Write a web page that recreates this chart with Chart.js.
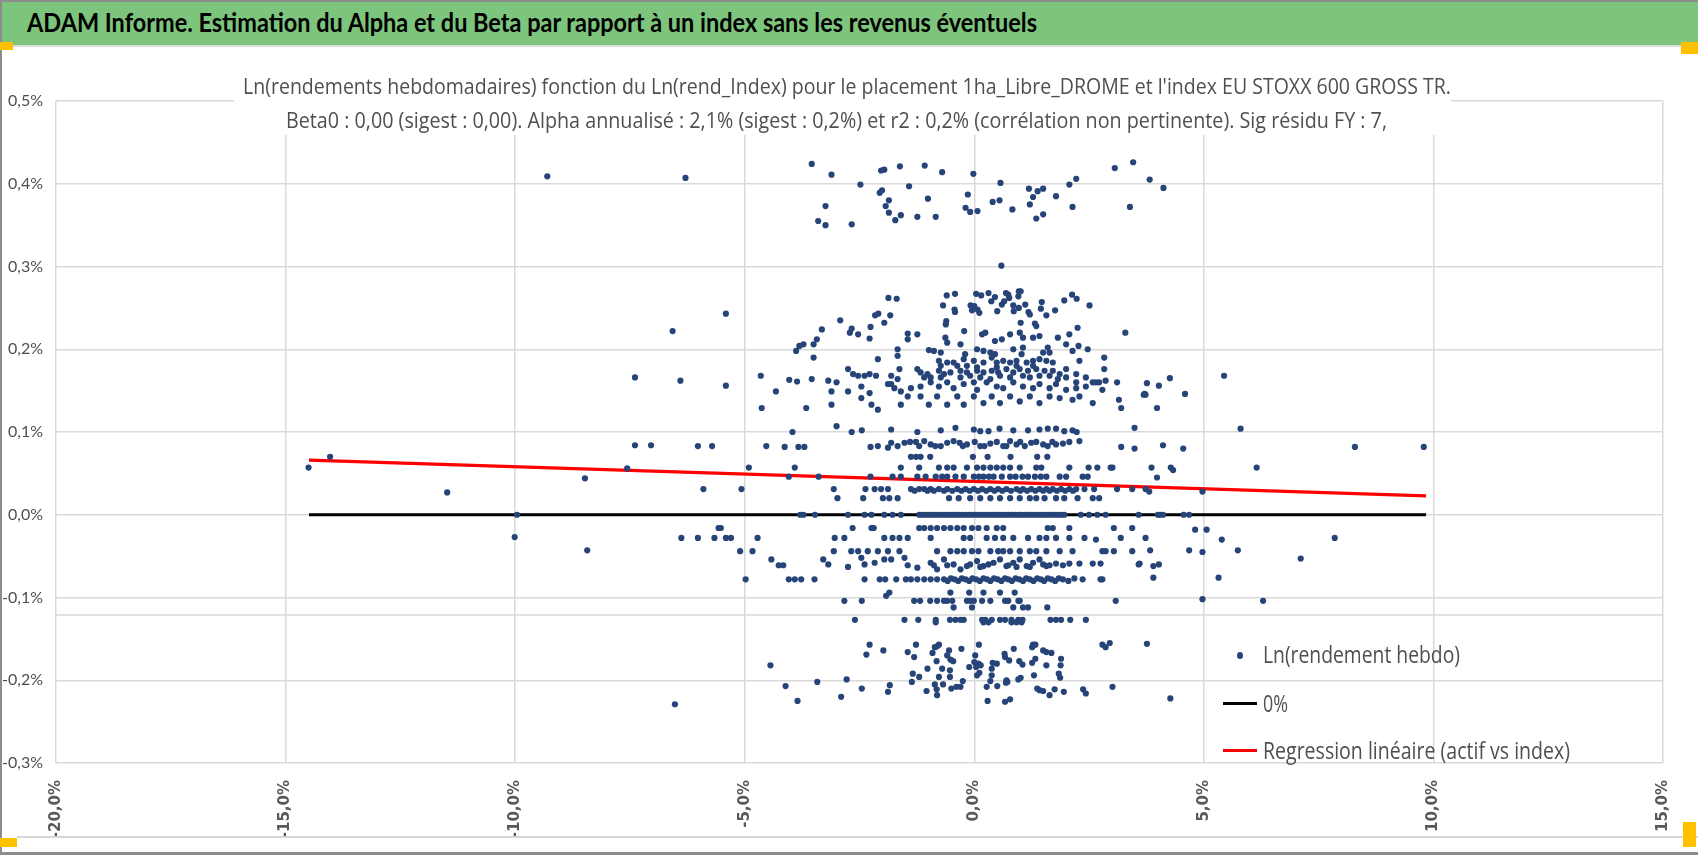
<!DOCTYPE html>
<html>
<head>
<meta charset="utf-8">
<script src="https://cdn.jsdelivr.net/npm/chart.js@4.4.1/dist/chart.umd.min.js"></script>
<style>
html,body{margin:0;padding:0;background:#fff;}
#wrap{position:relative;width:1698px;height:855px;overflow:hidden;background:#fff;}
#c{position:absolute;left:0;top:0;}
.box{position:absolute;}
.fit{position:absolute;white-space:nowrap;transform-origin:0 50%;line-height:1.2;transform:translateY(-50%);}
.gray{color:#4f4f4f;font-family:"Open Sans",Lato,"Noto Sans",sans-serif;}
</style>
</head>
<body>
<div id="wrap">
  <canvas id="c" width="1698" height="855"></canvas>
  <!-- frame -->
  <div class="box" style="left:0;top:0;width:1698px;height:45px;background:#7dc57c;border-top:2px solid #8c8c8c;box-sizing:border-box;"></div>
  <div class="box" style="left:0;top:45px;width:1698px;height:2px;background:#dcdcdc;"></div>
  <div class="box" style="left:0;top:0;width:2px;height:855px;background:#8c8c8c;"></div>
  <div class="box" style="left:17px;top:836px;width:1681px;height:2px;background:#d6d6d6;"></div>
  <div class="box" style="left:0;top:852px;width:1698px;height:3px;background:#8c8c8c;"></div>
  <div class="box" style="left:0;top:42px;width:13px;height:8px;background:#ffc000;"></div>
  <div class="box" style="left:1681px;top:42px;width:17px;height:12px;background:#ffc000;"></div>
  <div class="box" style="left:0;top:838px;width:17px;height:9px;background:#ffc000;"></div>
  <div class="box" style="left:1683px;top:822px;width:13px;height:25px;background:#ffc000;"></div>
  <!-- header -->
  <div class="fit" id="hdr" data-w="1010" style="left:27px;top:23px;font-family:Lato,'Open Sans',sans-serif;font-weight:bold;font-size:26px;color:#000;"></div>
  <!-- chart title box -->
  <div class="box" style="left:234px;top:58px;width:1217px;height:77px;background:#fff;"></div>
  <div class="fit gray" id="t1" data-w="1208" style="left:243px;top:85px;font-size:22px;"></div>
  <div class="fit gray" id="t2" data-w="1101" style="left:286px;top:119px;font-size:22px;"></div>
  <!-- legend -->
  <div class="box" style="left:1237px;top:652px;width:6px;height:7px;border-radius:50%;background:#264478;"></div>
  <div class="box" style="left:1223px;top:702px;width:34px;height:3px;background:#000;"></div>
  <div class="box" style="left:1223px;top:749px;width:34px;height:3px;background:#ff0000;"></div>
  <div class="fit gray" id="l1" data-w="197" style="left:1263px;top:655px;font-size:23px;"></div>
  <div class="fit gray" id="l2" data-w="25" style="left:1263px;top:704px;font-size:23px;"></div>
  <div class="fit gray" id="l3" data-w="307" style="left:1263px;top:751px;font-size:23px;"></div>
</div>
<script>
// ---------- texts ----------
const headerText = "ADAM Informe. Estimation du Alpha et du Beta par rapport à un index sans les revenus éventuels";
const titleLines = [
  "Ln(rendements hebdomadaires) fonction du Ln(rend_Index) pour le placement 1ha_Libre_DROME et l'index EU STOXX 600 GROSS TR.",
  "Beta0 : 0,00 (sigest : 0,00). Alpha annualisé : 2,1% (sigest : 0,2%) et r2 : 0,2% (corrélation non pertinente). Sig résidu FY : 7,"
];
const seriesNames = ["Ln(rendement hebdo)", "0%", "Regression linéaire (actif vs index)"];

// ---------- axes ----------
const xTickValues = [-20, -15, -10, -5, 0, 5, 10, 15];
const yTickValues = [-0.3, -0.2, -0.1, 0.0, 0.1, 0.2, 0.3, 0.4, 0.5];
const extraRuleY = [-0.121];

// ---------- lines ----------
const zeroLineX = [-14.49, 9.84];
const zeroLineY = [0, 0];
const regressionX = [-14.49, 9.84];
const regressionY = [0.066, 0.0227];

// ---------- weekly points [index return %, asset return %] ----------
const weeklyPoints = [
// top cluster
[-9.30,0.409],[-6.29,0.407],[-3.54,0.424],[-3.11,0.411],[-3.24,0.373],[-3.40,0.355],[-3.24,0.350],[-2.67,0.351],[-2.48,0.399],[-2.03,0.416],[-1.96,0.417],[-1.62,0.421],[-1.08,0.422],[-0.70,0.414],[-0.02,0.412],[-1.42,0.397],[-2.06,0.389],[-2.01,0.392],[-1.86,0.380],[-1.93,0.373],[-1.86,0.365],[-1.72,0.356],[-1.60,0.362],[-1.24,0.360],[-1.01,0.382],[-0.84,0.360],[-0.14,0.387],[-0.19,0.371],[-0.09,0.366],[0.07,0.367],[0.40,0.378],[0.55,0.380],[0.57,0.401],[0.83,0.369],[1.19,0.394],[1.28,0.384],[1.38,0.391],[1.50,0.394],[1.21,0.375],[1.35,0.358],[1.50,0.363],[1.78,0.385],[2.07,0.399],[2.22,0.406],[2.14,0.372],[3.06,0.419],[3.46,0.426],[3.39,0.372],[3.82,0.405],[4.12,0.395],[0.59,0.301],
// 0.225 - 0.27
[-5.41,0.243],[-6.57,0.222],[-1.87,0.262],[-1.69,0.261],[-0.60,0.265],[-0.42,0.267],[0.04,0.267],[0.15,0.265],[0.31,0.268],[0.37,0.258],[0.45,0.263],[0.69,0.268],[0.74,0.266],[0.76,0.262],[0.97,0.270],[1.01,0.270],[0.96,0.264],[1.11,0.254],[1.47,0.257],[1.96,0.259],[2.13,0.266],[2.23,0.261],[2.51,0.253],
[-0.68,0.253],[-0.43,0.248],[-0.42,0.245],[-0.08,0.253],[-0.05,0.247],[0.00,0.252],[0.07,0.248],[0.11,0.244],[0.50,0.246],[0.60,0.254],[0.65,0.258],[0.85,0.253],[0.86,0.246],[0.97,0.250],[1.18,0.245],[1.21,0.242],[1.45,0.249],[1.57,0.241],[1.76,0.247],[1.32,0.231],[1.35,0.228],[1.01,0.232],[2.25,0.226],
[-0.61,0.234],[-0.62,0.230],[-2.16,0.241],[-2.09,0.243],[-1.83,0.241],[-1.96,0.232],[-2.26,0.227],[-2.67,0.225],[-2.92,0.235],
[-3.81,0.204],[-3.72,0.206],[-3.88,0.198],
// 0.127 - 0.224 dense cloud
[-3.32,0.224],[-2.71,0.220],[-2.53,0.218],[-2.28,0.213],[-1.45,0.219],[-1.45,0.212],[-1.24,0.218],[-0.63,0.214],[-0.59,0.208],[-0.22,0.222],[0.17,0.218],[0.24,0.220],[0.45,0.210],[0.60,0.212],[0.78,0.218],[0.99,0.220],[1.06,0.214],[1.28,0.214],[1.42,0.216],[1.82,0.214],[2.07,0.218],[3.29,0.220],[-3.43,0.212],[-3.50,0.206],
[-1.67,0.200],[-1.67,0.192],[-0.99,0.199],[-0.88,0.198],[-0.73,0.196],[-0.30,0.206],[-0.20,0.194],[0.06,0.200],[0.20,0.198],[0.35,0.196],[0.45,0.194],[0.85,0.200],[1.03,0.194],[1.06,0.202],[1.50,0.196],[1.60,0.202],[1.64,0.196],[2.00,0.206],[2.14,0.198],[2.27,0.204],[2.47,0.200],[2.83,0.190],[-3.50,0.190],[-2.10,0.188],
[-0.77,0.186],[-0.59,0.184],[-0.45,0.184],[-0.23,0.188],[-0.01,0.186],[0.20,0.184],[0.38,0.190],[0.49,0.184],[0.63,0.186],[0.78,0.184],[0.92,0.186],[1.14,0.184],[1.28,0.186],[1.42,0.188],[1.57,0.186],[1.71,0.184],[2.29,0.186],[-0.73,0.180],[-0.37,0.180],[-0.16,0.180],[0.06,0.178],[0.49,0.178],[0.92,0.180],[1.28,0.180],
[-2.75,0.176],[-2.64,0.170],[-2.53,0.168],[-2.39,0.168],[-2.28,0.170],[-2.14,0.168],[-1.81,0.168],[-1.63,0.176],[-1.24,0.176],[-1.17,0.172],[-1.02,0.170],[-0.77,0.174],[-0.66,0.170],[-0.52,0.172],[-0.30,0.174],[-0.16,0.172],[0.06,0.174],[0.20,0.172],[0.38,0.174],[0.52,0.172],[0.70,0.176],[0.85,0.172],[0.99,0.176],[1.17,0.174],[1.35,0.176],[1.53,0.174],[1.71,0.174],[1.86,0.170],[2.00,0.176],[2.22,0.170],[2.83,0.176],
[-1.81,0.158],[-1.67,0.164],[-1.09,0.166],[-0.95,0.166],[-0.73,0.166],[-0.30,0.166],[-0.09,0.168],[0.13,0.166],[0.35,0.164],[0.56,0.168],[0.78,0.166],[1.06,0.168],[1.21,0.166],[1.42,0.168],[1.64,0.168],[1.82,0.164],[2.00,0.166],[2.22,0.160],[2.43,0.166],[2.58,0.160],[2.65,0.160],[2.86,0.162],
[-3.18,0.162],[-3.00,0.160],[-3.11,0.149],[-2.75,0.149],[-2.46,0.155],[-2.28,0.147],[-1.88,0.158],[-1.74,0.153],[-1.60,0.149],[-1.38,0.153],[-1.17,0.155],[-0.95,0.160],[-0.77,0.155],[-0.59,0.160],[-0.45,0.153],[-0.23,0.158],[-0.01,0.160],[0.06,0.151],[0.27,0.160],[0.49,0.155],[0.63,0.153],[0.85,0.160],[1.06,0.155],[1.28,0.153],[1.42,0.158],[1.64,0.153],[1.78,0.158],[2.00,0.151],[2.22,0.153],[2.43,0.155],[2.72,0.160],[3.11,0.160],[-3.54,0.164],[2.79,0.151],
[-3.11,0.133],[-2.46,0.141],[-2.24,0.133],[-2.10,0.127],[-1.60,0.133],[-1.45,0.143],[-1.17,0.143],[-0.99,0.133],[-0.81,0.143],[-0.59,0.133],[-0.37,0.143],[-0.23,0.133],[-0.01,0.143],[0.20,0.135],[0.38,0.143],[0.56,0.135],[0.78,0.143],[0.99,0.137],[1.21,0.143],[1.42,0.135],[1.64,0.143],[1.86,0.141],[2.14,0.139],[2.29,0.143],[2.58,0.135],[3.15,0.139],[3.20,0.129],
// 0.12 - 0.17 outside the dense cloud
[-4.65,0.168],[-5.41,0.156],[-6.40,0.162],[-7.39,0.166],[-4.03,0.163],[-3.86,0.161],[-4.32,0.149],[-4.63,0.129],[-3.66,0.129],
[3.76,0.159],[3.71,0.146],[4.02,0.156],[4.26,0.165],[4.59,0.146],[3.98,0.129],[5.44,0.168],[3.73,0.145],[3.69,0.145],
// ~0.10
[-3.96,0.100],[-3.00,0.107],[-2.67,0.100],[-2.45,0.102],[-1.81,0.103],[-1.24,0.100],[-0.73,0.102],[-0.41,0.105],[-0.01,0.103],[0.13,0.101],[0.31,0.101],[0.55,0.104],[0.85,0.102],[1.17,0.102],[1.42,0.103],[1.60,0.104],[1.78,0.104],[1.96,0.101],[2.14,0.102],[2.23,0.100],[3.49,0.105],[5.80,0.104],
// ~0.08
[-6.02,0.083],[-5.71,0.083],[-4.53,0.083],[-4.13,0.082],[-3.83,0.082],[-3.70,0.082],[-2.26,0.082],[-2.10,0.083],[-1.88,0.081],[-1.81,0.087],[-1.67,0.083],[-1.52,0.087],[-1.40,0.088],[-1.27,0.088],[-1.20,0.083],[-1.09,0.089],[-0.95,0.085],[-0.73,0.083],[-0.59,0.087],[-0.45,0.089],[-0.32,0.087],[-0.16,0.085],[0.01,0.088],[0.13,0.083],[0.35,0.086],[0.49,0.088],[0.63,0.083],[0.78,0.089],[0.92,0.085],[1.10,0.083],[1.24,0.087],[1.35,0.088],[1.50,0.085],[1.60,0.083],[1.78,0.085],[1.93,0.086],[2.07,0.088],[2.29,0.089],[3.20,0.082],[3.49,0.080],[4.11,0.084],[4.55,0.080],[8.29,0.082],[9.79,0.082],[-7.39,0.084],[-7.04,0.084],
[-0.85,0.083],[-0.25,0.083],[0.22,0.083],[0.70,0.083],[1.00,0.088],[1.70,0.088],
// ~0.07
[-1.38,0.070],[-1.27,0.070],[-1.17,0.070],[-0.96,0.070],[-0.03,0.070],[0.29,0.070],[0.79,0.070],[1.37,0.070],[1.59,0.070],[-14.03,0.070],
// ~0.057
[-4.91,0.057],[-3.91,0.057],[-1.60,0.057],[-1.20,0.057],[-0.77,0.057],[-0.59,0.057],[-0.45,0.057],[-0.16,0.057],[0.06,0.057],[0.20,0.057],[0.35,0.057],[0.49,0.057],[0.63,0.057],[0.78,0.057],[0.99,0.057],[1.35,0.057],[1.46,0.057],[2.07,0.057],[2.49,0.057],[2.68,0.057],[2.97,0.057],[3.01,0.057],[3.86,0.057],[4.28,0.057],[4.33,0.054],[6.15,0.057],[-7.56,0.056],[-14.50,0.057],
// ~0.046
[-4.04,0.046],[-3.39,0.046],[-2.26,0.046],[-1.78,0.046],[-1.60,0.046],[-1.24,0.046],[-1.06,0.046],[-0.84,0.046],[-0.59,0.046],[-0.41,0.046],[-0.23,0.046],[-0.01,0.046],[0.20,0.046],[0.42,0.046],[0.60,0.046],[0.78,0.046],[1.17,0.046],[1.32,0.046],[1.57,0.046],[1.86,0.046],[2.00,0.046],[2.36,0.046],[2.47,0.046],[3.98,0.045],[-8.48,0.044],
[-0.70,0.046],[0.10,0.046],[0.32,0.046],[0.90,0.046],[1.05,0.046],[1.45,0.046],
// ~0.03
[-5.90,0.031],[-5.07,0.031],[-3.06,0.031],[-2.37,0.031],[-2.17,0.031],[-2.03,0.031],[-1.88,0.031],[-1.38,0.031],[-1.20,0.031],[-1.09,0.031],[-0.95,0.031],[-0.77,0.031],[-0.59,0.031],[-0.37,0.031],[-0.19,0.031],[-0.01,0.031],[0.17,0.031],[0.35,0.031],[0.52,0.031],[0.70,0.031],[0.92,0.031],[1.06,0.031],[1.24,0.031],[1.42,0.031],[1.57,0.031],[1.71,0.031],[1.89,0.031],[2.07,0.031],[2.22,0.031],[2.40,0.031],[2.61,0.031],[3.11,0.031],[3.44,0.031],[3.73,0.031],
[-1.30,0.029],[-1.02,0.029],[-0.88,0.029],[-0.66,0.029],[-0.48,0.029],[-0.28,0.029],[-0.10,0.029],[0.08,0.029],[0.26,0.029],[0.44,0.029],[0.61,0.029],[0.80,0.029],[1.00,0.029],[1.15,0.029],[1.33,0.029],[1.50,0.029],[1.64,0.029],[1.80,0.029],[1.98,0.029],[2.15,0.029],
[3.81,0.028],[4.97,0.028],[-11.48,0.027],
// ~0.02
[-2.98,0.020],[-2.42,0.020],[-1.99,0.020],[-1.85,0.020],[-1.67,0.020],[-0.55,0.020],[-0.34,0.020],[-0.09,0.020],[0.13,0.020],[0.35,0.020],[0.56,0.020],[0.78,0.020],[0.99,0.020],[1.21,0.020],[1.35,0.020],[1.53,0.020],[1.78,0.020],[1.96,0.020],[2.25,0.020],[2.58,0.020],[2.72,0.020],
// 0
[-9.96,0],[-3.79,0],[-3.72,0],[-3.47,0],[-2.75,0],[-2.39,0],[-2.24,0],[-1.96,0],[-1.78,0],[-1.60,0],
[-1.20,0],[-1.14,0],[-1.07,0],[-1.00,0],[-0.93,0],[-0.87,0],[-0.80,0],[-0.73,0],[-0.66,0],[-0.60,0],[-0.53,0],[-0.46,0],[-0.39,0],[-0.33,0],[-0.26,0],[-0.19,0],[-0.12,0],[-0.06,0],[0.01,0],[0.08,0],[0.15,0],[0.21,0],[0.28,0],[0.35,0],[0.42,0],[0.48,0],[0.55,0],[0.62,0],[0.69,0],[0.75,0],[0.82,0],[0.89,0],[0.96,0],[1.02,0],[1.09,0],[1.16,0],[1.23,0],[1.29,0],[1.36,0],[1.43,0],[1.50,0],[1.56,0],[1.63,0],[1.70,0],[1.77,0],[1.84,0],[1.90,0],[1.96,0],
[2.32,0],[2.50,0],[2.68,0],[2.86,0],[3.58,0],[4.00,0],[4.05,0],[4.11,0],[4.56,0],[4.68,0],
// ~-0.016
[-5.57,-0.016],[-5.52,-0.016],[-2.65,-0.016],[-2.24,-0.016],[-2.19,-0.016],[-1.20,-0.016],[-1.09,-0.016],[-0.95,-0.016],[-0.81,-0.016],[-0.66,-0.016],[-0.52,-0.016],[-0.37,-0.016],[-0.23,-0.016],[-0.05,-0.016],[0.09,-0.016],[0.27,-0.016],[0.49,-0.016],[0.63,-0.016],[1.60,-0.016],[1.71,-0.016],[2.07,-0.016],[3.04,-0.016],[3.44,-0.016],[4.81,-0.018],[5.06,-0.018],
// ~-0.028
[-6.38,-0.028],[-6.02,-0.028],[-5.66,-0.028],[-5.41,-0.028],[-5.30,-0.028],[-4.72,-0.028],[-3.04,-0.028],[-2.83,-0.028],[-1.96,-0.028],[-1.78,-0.028],[-1.63,-0.028],[-1.45,-0.028],[-0.95,-0.028],[-0.23,-0.028],[-0.09,-0.028],[0.27,-0.028],[0.45,-0.028],[0.63,-0.028],[0.85,-0.028],[1.17,-0.028],[1.42,-0.028],[1.57,-0.028],[1.78,-0.028],[2.07,-0.028],[2.40,-0.028],[3.19,-0.028],[3.73,-0.028],[2.65,-0.030],[5.39,-0.030],[7.85,-0.028],[-10.01,-0.027],
// ~-0.044
[-5.10,-0.044],[-4.83,-0.044],[-3.06,-0.044],[-2.68,-0.044],[-2.53,-0.044],[-2.32,-0.044],[-2.10,-0.044],[-1.88,-0.044],[-1.63,-0.044],[-0.81,-0.044],[-0.52,-0.044],[-0.37,-0.044],[-0.23,-0.044],[-0.05,-0.044],[0.09,-0.044],[0.35,-0.044],[0.52,-0.044],[0.63,-0.044],[0.78,-0.044],[0.99,-0.044],[1.21,-0.044],[1.35,-0.044],[1.57,-0.044],[1.86,-0.044],[2.14,-0.044],[2.79,-0.044],[2.86,-0.044],[3.04,-0.044],[3.44,-0.044],[3.83,-0.043],[4.68,-0.043],[4.97,-0.045],[5.74,-0.043],[-8.43,-0.043],
// -0.05 .. -0.066
[-4.42,-0.054],[-4.26,-0.061],[-4.16,-0.061],[-3.29,-0.054],[-3.18,-0.060],[-2.75,-0.063],[-2.46,-0.052],[-2.39,-0.060],[-2.17,-0.058],[-1.96,-0.054],[-1.81,-0.054],[-1.52,-0.052],[-1.45,-0.061],[-1.24,-0.064],[-0.95,-0.058],[-0.81,-0.066],[-0.66,-0.054],[-0.45,-0.060],[-0.30,-0.066],[-0.09,-0.060],[0.06,-0.056],[0.20,-0.062],[0.42,-0.058],[0.56,-0.054],[0.70,-0.062],[0.85,-0.058],[0.99,-0.054],[1.14,-0.062],[1.28,-0.058],[1.42,-0.054],[1.57,-0.062],[1.78,-0.059],[2.07,-0.059],[2.29,-0.059],[2.58,-0.059],[2.75,-0.059],[3.60,-0.059],
[0.74,-0.061],[0.92,-0.063],[1.21,-0.063],[1.50,-0.060],[1.64,-0.061],[1.93,-0.061],[0.31,-0.060],[0.13,-0.063],[-0.16,-0.062],[-0.59,-0.061],[-0.88,-0.061],
[3.58,-0.060],[3.90,-0.062],[4.02,-0.060],[7.11,-0.053],
// ~-0.078
[-4.98,-0.078],[-4.04,-0.078],[-3.91,-0.078],[-3.77,-0.078],[-3.48,-0.078],[-2.39,-0.078],[-2.06,-0.078],[-1.94,-0.078],[-1.70,-0.078],[-1.49,-0.078],[-1.38,-0.078],[-1.24,-0.078],[-1.09,-0.078],[-0.95,-0.078],[-0.81,-0.078],
[-0.66,-0.078],[-0.58,-0.080],[-0.51,-0.077],[-0.43,-0.078],[-0.35,-0.080],[-0.27,-0.077],[-0.19,-0.078],[-0.11,-0.080],[-0.04,-0.077],[0.04,-0.078],[0.12,-0.080],[0.20,-0.077],[0.28,-0.078],[0.35,-0.080],[0.43,-0.077],[0.51,-0.078],[0.59,-0.080],[0.67,-0.077],[0.74,-0.078],[0.82,-0.080],[0.90,-0.077],[0.98,-0.078],[1.06,-0.080],[1.13,-0.077],[1.21,-0.078],[1.29,-0.080],[1.37,-0.077],[1.45,-0.078],[1.52,-0.080],[1.60,-0.077],[1.68,-0.078],[1.76,-0.080],[1.84,-0.077],[1.93,-0.078],[2.05,-0.080],[2.18,-0.077],[2.36,-0.078],
[2.75,-0.078],[2.79,-0.078],[3.90,-0.076],[5.32,-0.076],
// ~-0.094
[-1.85,-0.094],[-1.92,-0.098],[-0.52,-0.094],[-0.11,-0.094],[0.20,-0.094],[0.56,-0.094],[0.88,-0.094],
// ~-0.104
[-2.83,-0.104],[-2.45,-0.104],[-1.31,-0.104],[-1.18,-0.104],[-0.96,-0.104],[-0.81,-0.104],[-0.66,-0.104],[-0.59,-0.104],[-0.48,-0.104],[-0.16,-0.104],[-0.09,-0.104],[-0.01,-0.104],[0.17,-0.104],[0.35,-0.104],[0.67,-0.104],[0.74,-0.104],[0.96,-0.104],[0.99,-0.104],[3.08,-0.104],[4.97,-0.102],[6.29,-0.104],
// ~-0.112
[-0.45,-0.112],[-0.05,-0.112],[0.85,-0.112],[1.06,-0.112],[1.17,-0.112],[1.59,-0.112],
// ~-0.127
[-2.60,-0.127],[-1.52,-0.127],[-1.22,-0.127],[-0.84,-0.127],[-0.53,-0.127],[-0.41,-0.127],[-0.30,-0.127],[-0.23,-0.127],[0.17,-0.127],[0.24,-0.127],[0.38,-0.127],[0.56,-0.127],[0.67,-0.127],[0.81,-0.127],[0.96,-0.127],[1.05,-0.127],[1.66,-0.127],[1.78,-0.127],[1.89,-0.127],[2.09,-0.127],[2.43,-0.127],
[-0.84,-0.130],[0.20,-0.130],[0.31,-0.130],[0.81,-0.130],[0.92,-0.130],[1.03,-0.130],
// -0.155 .. -0.176
[-2.28,-0.157],[-1.27,-0.157],[-0.81,-0.159],[-0.77,-0.157],[0.10,-0.157],[1.28,-0.157],[1.33,-0.157],[2.79,-0.157],[2.95,-0.155],[3.76,-0.156],
[-2.35,-0.169],[-1.98,-0.164],[-1.45,-0.166],[-1.31,-0.172],[-0.91,-0.167],[-0.86,-0.160],[-0.55,-0.164],[-0.59,-0.170],[-0.28,-0.162],[0.02,-0.170],[0.66,-0.168],[0.86,-0.162],[0.67,-0.172],[0.76,-0.176],[1.26,-0.160],[1.50,-0.164],[1.57,-0.166],[1.68,-0.167],[1.89,-0.174],[2.86,-0.160],
// -0.175 .. -0.19
[-4.44,-0.182],[-0.82,-0.177],[-1.02,-0.186],[-0.70,-0.186],[-0.52,-0.175],[-0.46,-0.177],[-0.53,-0.188],[-0.11,-0.184],[0.00,-0.178],[0.09,-0.180],[0.14,-0.182],[0.04,-0.184],[0.40,-0.179],[0.49,-0.180],[0.38,-0.186],[0.98,-0.177],[1.05,-0.181],[1.26,-0.179],[1.33,-0.174],[1.57,-0.182],[1.88,-0.182],
// -0.19 .. -0.202
[-1.34,-0.192],[-1.20,-0.196],[-1.36,-0.202],[-0.77,-0.196],[-0.53,-0.196],[-0.25,-0.201],[0.06,-0.194],[0.11,-0.191],[0.35,-0.201],[0.38,-0.194],[0.70,-0.200],[0.72,-0.202],[0.96,-0.199],[1.01,-0.197],[1.30,-0.194],[1.84,-0.192],[1.87,-0.197],
// -0.203 .. -0.218
[-4.11,-0.207],[-3.42,-0.202],[-2.78,-0.199],[-2.45,-0.210],[-1.84,-0.206],[-1.88,-0.214],[-1.04,-0.213],[-0.86,-0.205],[-0.82,-0.211],[-0.81,-0.218],[-0.68,-0.205],[-0.50,-0.210],[-0.39,-0.208],[-0.30,-0.208],[0.27,-0.208],[0.50,-0.207],[0.69,-0.203],[1.37,-0.210],[1.42,-0.212],[1.50,-0.213],[1.64,-0.218],[1.75,-0.211],[1.95,-0.214],[2.37,-0.211],[2.43,-0.216],[3.01,-0.208],
// ~-0.225
[-6.52,-0.229],[-3.85,-0.225],[-2.90,-0.220],[0.29,-0.225],[0.67,-0.226],[0.78,-0.223],[4.27,-0.222]
];

// ---------- texts into DOM ----------
document.getElementById('hdr').textContent = headerText;
document.getElementById('t1').textContent = titleLines[0];
document.getElementById('t2').textContent = titleLines[1];
document.getElementById('l1').textContent = seriesNames[0];
document.getElementById('l2').textContent = seriesNames[1];
document.getElementById('l3').textContent = seriesNames[2];
document.querySelectorAll('.fit').forEach(el => {
  const w = el.getBoundingClientRect().width;
  const k = parseFloat(el.dataset.w) / w;
  el.style.transform = 'translateY(-50%) scaleX(' + k + ')';
});

// ---------- chart ----------
const fmt = v => Number(v).toFixed(1).replace('.', ',') + '%';
const toXY = (xs, ys) => xs.map((x, i) => ({x: x, y: ys[i]}));

const extraRulePlugin = {
  id: 'extraRule',
  beforeDatasetsDraw(chart) {
    const {ctx, chartArea, scales} = chart;
    ctx.save();
    ctx.strokeStyle = '#d9d9d9';
    ctx.lineWidth = 1.5;
    extraRuleY.forEach(v => {
      const y = scales.y.getPixelForValue(v);
      ctx.beginPath();
      ctx.moveTo(chartArea.left, y);
      ctx.lineTo(chartArea.right, y);
      ctx.stroke();
    });
    ctx.restore();
  }
};

new Chart(document.getElementById('c'), {
  type: 'scatter',
  data: {
    datasets: [
      {
        label: seriesNames[0],
        data: weeklyPoints.map(p => ({x: p[0], y: p[1]})),
        backgroundColor: '#264478',
        borderColor: '#264478',
        borderWidth: 0,
        pointRadius: 3.1,
        pointHoverRadius: 3.1
      },
      {
        label: seriesNames[1],
        data: toXY(zeroLineX, zeroLineY),
        showLine: true,
        borderColor: '#000000',
        borderWidth: 3,
        pointRadius: 0
      },
      {
        label: seriesNames[2],
        data: toXY(regressionX, regressionY),
        showLine: true,
        borderColor: '#ff0000',
        borderWidth: 3.2,
        pointRadius: 0
      }
    ]
  },
  options: {
    responsive: false,
    animation: false,
    devicePixelRatio: 1,
    layout: {padding: {left: 0, right: 18, top: 101, bottom: 0}},
    plugins: {legend: {display: false}, tooltip: {enabled: false}, title: {display: false}},
    scales: {
      x: {
        type: 'linear',
        min: -20, max: 15,
        afterBuildTicks: s => { s.ticks = xTickValues.map(v => ({value: v})); },
        afterFit: s => { s.height = 92; },
        ticks: {
          callback: v => fmt(v),
          minRotation: 90, maxRotation: 90,
          padding: 17,
          color: '#595959',
          font: {family: 'DejaVu Sans', size: 15, weight: 'bold'}
        },
        grid: {color: '#d9d9d9', lineWidth: 1.5, drawTicks: false},
        border: {display: false}
      },
      y: {
        type: 'linear',
        min: -0.3, max: 0.5,
        afterBuildTicks: s => { s.ticks = yTickValues.map(v => ({value: v})); },
        afterFit: s => { s.width = 56; },
        ticks: {
          callback: v => fmt(v),
          padding: 13,
          color: '#4f4f4f',
          font: {family: 'Lato', size: 16}
        },
        grid: {color: '#d9d9d9', lineWidth: 1.5, drawTicks: false},
        border: {display: false}
      }
    }
  },
  plugins: [extraRulePlugin]
});
</script>
</body>
</html>
